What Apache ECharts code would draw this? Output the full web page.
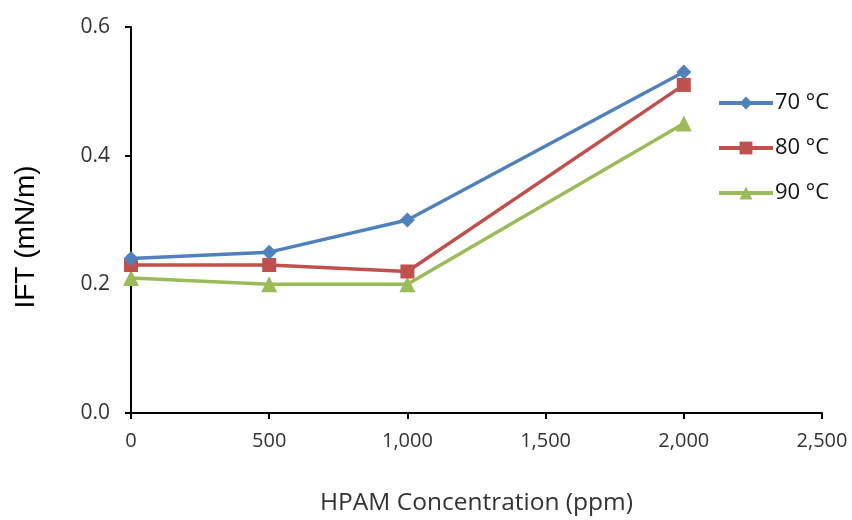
<!DOCTYPE html>
<html>
<head>
<meta charset="utf-8">
<script src="https://cdn.jsdelivr.net/npm/echarts@6/dist/echarts.min.js"></script>
<style>html,body{margin:0;padding:0;background:#fff}#c{width:852px;height:520px}</style>
</head>
<body>
<div id="c"></div>
<script>
const xValues = [0, 500, 1000, 2000];
const s70 = [0.24, 0.25, 0.30, 0.53];
const s80 = [0.23, 0.23, 0.22, 0.51];
const s90 = [0.21, 0.20, 0.20, 0.45];
const seriesNames = ['70 °C', '80 °C', '90 °C'];
const colors = ['#4F81BD', '#C0504D', '#9BBB59'];
const symbols = ['diamond', 'rect', 'triangle'];
const symbolSizes = [15, 14, 16];

const pairs = arr => xValues.map((x, i) => [x, arr[i]]);
const font = 'Open Sans';
const chart = echarts.init(document.getElementById('c'));
chart.setOption({
  animation: false,
  backgroundColor: '#fff',
  grid: { left: 131, right: 30, top: 27, bottom: 107, containLabel: false, outerBoundsMode: 'none' },
  legend: {
    orient: 'vertical', left: 712, top: 87, itemGap: 23,
    itemWidth: 54, itemHeight: 16,
    lineStyle: { width: 4 },
    textStyle: { fontFamily: font, fontSize: 22, lineHeight: 22, color: '#111', padding: [0, 0, 0, -3] },
    data: seriesNames
  },
  xAxis: {
    type: 'value', min: 0, max: 2500, interval: 500,
    name: 'HPAM Concentration (ppm)', nameLocation: 'middle', nameGap: 78,
    nameTextStyle: { fontFamily: font, fontSize: 24.5, color: '#333' },
    axisLine: { lineStyle: { color: '#000', width: 2 } },
    axisTick: { show: true, length: 6, lineStyle: { color: '#000', width: 2 } },
    splitLine: { show: false },
    axisLabel: { fontFamily: font, fontSize: 20, color: '#333', margin: 18,
      formatter: v => v.toLocaleString('en-US') }
  },
  yAxis: {
    type: 'value', min: 0, max: 0.6, interval: 0.2,
    name: 'IFT (mN/m)', nameLocation: 'middle', nameGap: 91,
    nameTextStyle: { fontFamily: 'Liberation Sans', fontSize: 28, color: '#000', padding: [0, 34, 0, 0] },
    axisLine: { show: true, lineStyle: { color: '#000', width: 2 } },
    axisTick: { show: true, length: 6, lineStyle: { color: '#000', width: 2 } },
    splitLine: { show: false },
    axisLabel: { fontFamily: font, fontSize: 21, color: '#333', margin: 21,
      formatter: v => v.toFixed(1) }
  },
  series: [s70, s80, s90].map((arr, i) => ({
    name: seriesNames[i], type: 'line', data: pairs(arr),
    symbol: symbols[i], symbolSize: symbolSizes[i],
    lineStyle: { color: colors[i], width: 3.5 },
    itemStyle: { color: colors[i] },
    z: 3 - i
  }))
});
</script>
</body>
</html>
